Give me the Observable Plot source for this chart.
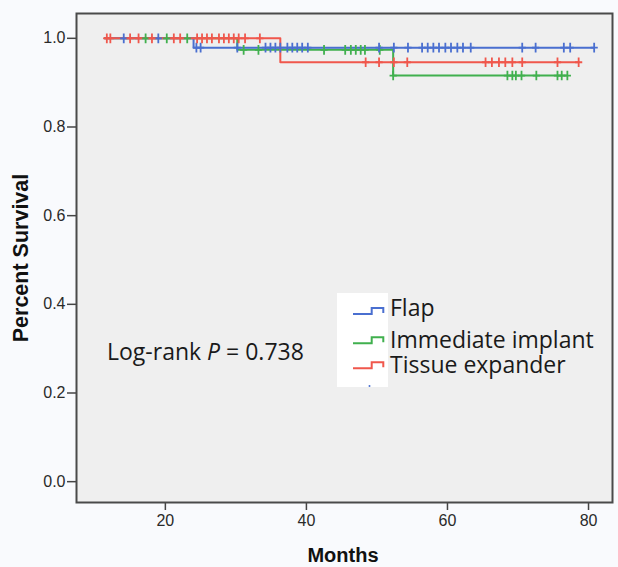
<!DOCTYPE html>
<html><head><meta charset="utf-8">
<script src="https://cdn.jsdelivr.net/npm/d3@7"></script>
<script src="https://cdn.jsdelivr.net/npm/@observablehq/plot@0.6"></script>
<style>
html,body{margin:0;padding:0;background:#f9fafd;}
#wrap{position:relative;width:618px;height:567px;overflow:hidden;}
#wrap svg{position:absolute;left:0;top:0;}
</style></head><body><div id="wrap"></div>
<script>
// ---- data ----
const groups = ["Flap", "Immediate implant", "Tissue expander"];
const colors = ["#4a6fd0", "#40b04e", "#f0574c"];
const xTicks = [20, 40, 60, 80];
const yTicks = [0, 0.2, 0.4, 0.6, 0.8, 1.0];

// step curves: times where survival changes (first = start, last = end of follow-up)
const flapTimes = [11.4, 24.0, 80.8];
const flapSurv = [1, 0.979, 0.979];
const implantTimes = [11.4, 30.2, 52.3, 77.0];
const implantSurv = [1, 0.974, 0.916, 0.916];
const expanderTimes = [11.4, 36.3, 78.6];
const expanderSurv = [1, 0.946, 0.946];

// censored observations (months)
const flapCensored = [14.1, 19.0, 24.4, 25.0, 30.2, 34.2, 34.9, 35.6, 36.3, 37.3, 38.0, 38.7, 39.4, 40.2,
  50.3, 52.4, 54.4, 56.4, 57.2, 58.0, 58.8, 59.7, 60.5, 61.4, 62.2, 63.3, 70.6, 72.5, 76.5, 77.4, 80.8];
const implantCensored = [17.2, 20.2, 23.1, 31.1, 33.2, 42.5, 45.5, 46.3, 47.0, 47.7, 48.3, 50.4,
  52.3, 68.5, 69.2, 69.7, 70.5, 72.6, 75.6, 76.2, 77.0];
const expanderCensored = [11.7, 12.2, 15.0, 16.2, 18.1, 21.2, 22.1, 24.5, 25.2, 25.9, 26.6, 27.6, 28.3,
  29.0, 29.7, 30.4, 31.3, 33.4, 48.4, 50.3, 52.4, 54.3, 65.4, 66.3, 67.3, 68.2, 69.2, 70.6, 75.6, 78.6];

// ---- build tables ----
const series = [
  {group: "Immediate implant", times: implantTimes, surv: implantSurv, cens: implantCensored},
  {group: "Flap", times: flapTimes, surv: flapSurv, cens: flapCensored},
  {group: "Tissue expander", times: expanderTimes, surv: expanderSurv, cens: expanderCensored}
];
const stepData = [];
const censorData = [];
for (const s of series) {
  s.times.forEach((t, i) => stepData.push({group: s.group, t, s: s.surv[i]}));
  for (const t of s.cens) {
    let lvl = s.surv[0];
    s.times.forEach((tt, i) => { if (tt <= t) lvl = s.surv[i]; });
    censorData.push({group: s.group, t, s: lvl});
  }
}

const plusSymbol = {
  draw(ctx, size) {
    const r = Math.sqrt(size / Math.PI);
    ctx.moveTo(0, -r); ctx.lineTo(0, r);
    ctx.moveTo(-r * 0.75, 0); ctx.lineTo(r * 0.75, 0);
  }
};

const chart = Plot.plot({
  width: 618, height: 567,
  marginLeft: 76, marginRight: 6, marginTop: 13, marginBottom: 65,
  style: {background: "transparent", fontFamily: "'Liberation Sans', Arial, sans-serif", fontSize: "16px", color: "#2a2a2a"},
  x: {domain: [7.4, 83.4]},
  y: {domain: [-0.047, 1.056]},
  color: {domain: groups, range: colors},
  marks: [
    Plot.frame({fill: "#efefef"}),
    Plot.axisX({ticks: xTicks, tickSize: 8, tickPadding: 4, label: null, stroke: "#444", strokeWidth: 1.5, fontSize: 16}),
    Plot.axisY({ticks: yTicks, tickFormat: d3.format(".1f"), tickSize: 9, tickPadding: 2, label: null, stroke: "#444", strokeWidth: 1.5, fontSize: 16}),
    Plot.line(stepData, {x: "t", y: "s", z: "group", stroke: "group", curve: "step-after", strokeWidth: 2}),
    Plot.dot(censorData, {x: "t", y: "s", stroke: "group", fill: "none", symbol: plusSymbol, r: 4.8, strokeWidth: 1.8}),
    Plot.frame({stroke: "#4a4a4a", strokeWidth: 2})
  ]
});
const wrap = document.getElementById("wrap");
wrap.appendChild(chart);

// ---- overlay: titles, legend, annotation ----
const ov = d3.select(wrap).append("svg").attr("width", 618).attr("height", 567)
  .style("font-family", "'Open Sans', Lato, sans-serif");
ov.append("text").attr("x", 343).attr("y", 562).attr("text-anchor", "middle")
  .style("font-family", "'Liberation Sans', Arial, sans-serif").style("font-weight", "bold").style("font-size", "20px")
  .attr("fill", "#111").text("Months");
ov.append("text").attr("transform", "translate(28,258) rotate(-90)").attr("text-anchor", "middle")
  .style("font-family", "'Liberation Sans', Arial, sans-serif").style("font-weight", "bold").style("font-size", "21.5px")
  .attr("fill", "#111").text("Percent Survival");

ov.append("rect").attr("x", 337).attr("y", 293).attr("width", 51).attr("height", 94).attr("fill", "#ffffff");
const legendIconLow = [314, 343.3, 368.3];
const legendBase = [316, 347.5, 372.5];
groups.forEach((g, i) => {
  const low = legendIconLow[i], high = low - 6;
  ov.append("path").attr("d", `M353,${low}H371.7V${high}H383.3V${high + 5}`)
    .attr("fill", "none").attr("stroke", colors[i]).attr("stroke-width", 2);
  ov.append("text").attr("x", 390).attr("y", legendBase[i]).attr("fill", "#1a1a1a")
    .style("font-size", "23px").text(g);
});
ov.append("circle").attr("cx", 369.5).attr("cy", 386).attr("r", 1).attr("fill", colors[0]);

const lr = ov.append("text").attr("x", 107).attr("y", 360).attr("fill", "#1a1a1a").style("font-size", "23px");
lr.append("tspan").text("Log-rank ");
lr.append("tspan").style("font-style", "italic").text("P");
lr.append("tspan").text(" = 0.738");
</script></body></html>
